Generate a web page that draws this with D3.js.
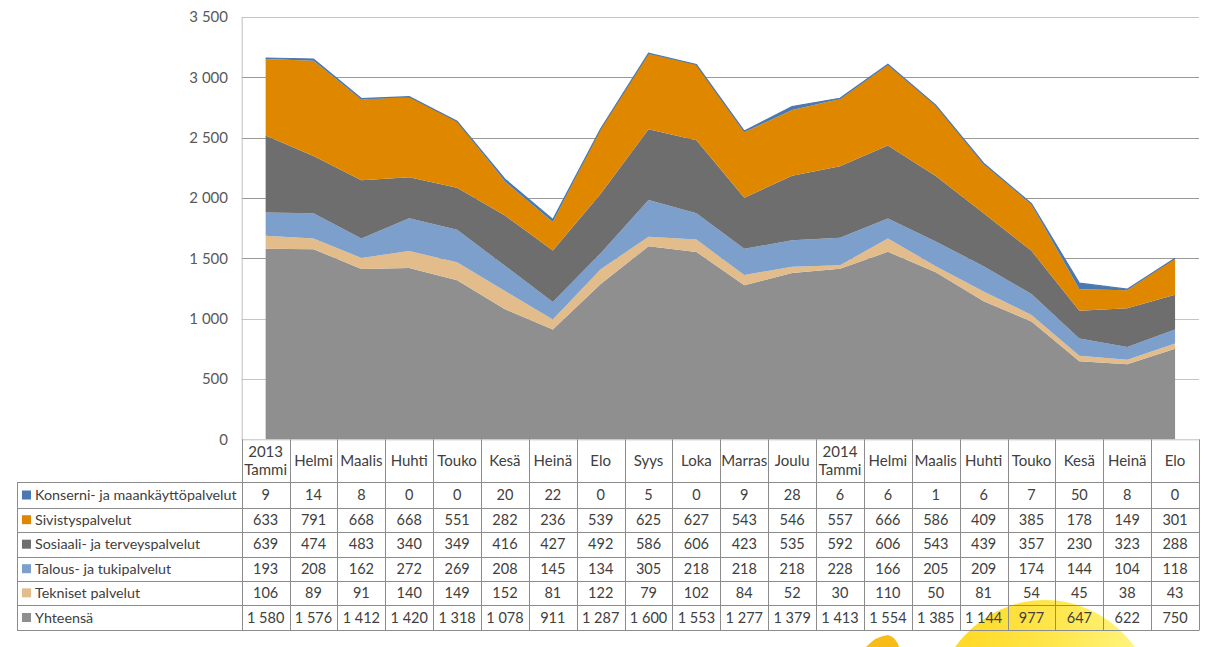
<!DOCTYPE html>
<html><head><meta charset="utf-8">
<script src="https://cdn.jsdelivr.net/npm/d3@7"></script>
<style>
html,body{margin:0;padding:0;background:#fff;}
svg{display:block;font-family:Lato,"Open Sans",sans-serif;}
</style></head>
<body><svg id="c" width="1205" height="647"></svg>
<script>
const months = ["2013\nTammi","Helmi","Maalis","Huhti","Touko","Kesä","Heinä","Elo","Syys","Loka","Marras","Joulu","2014\nTammi","Helmi","Maalis","Huhti","Touko","Kesä","Heinä","Elo"];
const seriesNames = ["Konserni- ja maankäyttöpalvelut","Sivistyspalvelut","Sosiaali- ja terveyspalvelut","Talous- ja tukipalvelut","Tekniset palvelut","Yhteensä"];
const konserni = [9,14,8,0,0,20,22,0,5,0,9,28,6,6,1,6,7,50,8,0];
const sivistys = [633,791,668,668,551,282,236,539,625,627,543,546,557,666,586,409,385,178,149,301];
const sosiaali = [639,474,483,340,349,416,427,492,586,606,423,535,592,606,543,439,357,230,323,288];
const talous = [193,208,162,272,269,208,145,134,305,218,218,218,228,166,205,209,174,144,104,118];
const tekniset = [106,89,91,140,149,152,81,122,79,102,84,52,30,110,50,81,54,45,38,43];
const yhteensa = [1580,1576,1412,1420,1318,1078,911,1287,1600,1553,1277,1379,1413,1554,1385,1144,977,647,622,750];
const yTicks = [0,500,1000,1500,2000,2500,3000,3500];
const colors = ["#4a78b0","#e08700","#6e6e6e","#7c9fcb","#e2bc8a","#8f8f8f"];

const seriesVals = [konserni,sivistys,sosiaali,talous,tekniset,yhteensa];
const svg = d3.select("#c");
const pLeft = 241.7, pRight = 1199, pTop = 17, pBottom = 439.3;
const rowH = [482.3,507.7,531.7,556.7,580.7,605,630];
const tableLeft = 17;

const loc = d3.formatLocale({decimal:",",thousands:"\u00a0",grouping:[3],currency:["","€"]});
const fmt = loc.format(",d");

const x = d3.scaleBand().domain(d3.range(months.length)).range([pLeft,pRight]).padding(0);
const xc = i => x(i) + x.bandwidth()/2;
const y = d3.scaleLinear().domain([0,3500]).range([pBottom,pTop]);

// decorative yellow logo (watermark) behind table
const defs = svg.append("defs");
const g1 = defs.append("linearGradient").attr("id","yg").attr("x1","0").attr("x2","1").attr("y1","0").attr("y2","0");
g1.append("stop").attr("offset","0").attr("stop-color","#ffd000");
g1.append("stop").attr("offset","0.6").attr("stop-color","#ffe640");
g1.append("stop").attr("offset","1").attr("stop-color","#fff780");
svg.append("ellipse").attr("cx",1045).attr("cy",722).attr("rx",114).attr("ry",122).attr("fill","url(#yg)").attr("opacity",0.9);
svg.append("path").attr("d","M866,647 Q876,636 888,635 Q896,637 899,647 Z").attr("fill","#f7b500").attr("opacity",0.9);

// gridlines
svg.append("g").selectAll("line").data(yTicks.filter(d=>d>0)).join("line")
  .attr("x1",pLeft).attr("x2",pRight).attr("y1",d=>Math.round(y(d))+0.5).attr("y2",d=>Math.round(y(d))+0.5)
  .attr("stroke",d=> (d===3500||d<=1000)?"#c4c4c4":"#999").attr("stroke-width",1);

// stacked areas (bottom: Yhteensä ... top: Konserni)
const stackKeys = d3.range(seriesNames.length).reverse();
const rows = months.map((m,i)=>{const o={i}; seriesVals.forEach((s,k)=>o[k]=s[i]); return o;});
const stack = d3.stack().keys(stackKeys)(rows);
const area = d3.area().x(d=>xc(d.data.i)).y0(d=>y(d[0])).y1(d=>y(d[1]));
svg.append("g").selectAll("path").data(stack).join("path")
  .attr("d",area).attr("fill",d=>colors[d.key]);
const topLayer = stack[stack.length-1];
svg.append("path").datum(topLayer)
  .attr("d",d3.line().x(d=>xc(d.data.i)).y(d=>y(d[1])))
  .attr("fill","none").attr("stroke",colors[0]).attr("stroke-width",1.2);

// y axis line
svg.append("line").attr("x1",pLeft+0.5).attr("x2",pLeft+0.5).attr("y1",pTop).attr("y2",pBottom)
  .attr("stroke","#bfbfbf");
// y tick labels
svg.append("g").selectAll("text").data(yTicks).join("text")
  .attr("x",228).attr("y",d=>y(d)).attr("dy","0.35em").attr("text-anchor","end")
  .attr("font-size",15).attr("fill","#595959").text(d=>fmt(d));

// table
const tg = svg.append("g");
const lineC = "#8c8c8c";
tg.append("line").attr("x1",pLeft).attr("x2",pRight).attr("y1",pBottom+0.5).attr("y2",pBottom+0.5).attr("stroke","#bfbfbf");
const colEdges = d3.range(months.length+1).map(i=> i<months.length? x(i): pRight);
tg.selectAll("line.v").data(colEdges).join("line").attr("class","v")
  .attr("x1",d=>Math.round(d)+0.5).attr("x2",d=>Math.round(d)+0.5)
  .attr("y1",pBottom).attr("y2",rowH[6]).attr("stroke",lineC);
tg.append("line").attr("x1",tableLeft+0.5).attr("x2",tableLeft+0.5).attr("y1",rowH[0]).attr("y2",rowH[6]).attr("stroke",lineC);
tg.selectAll("line.h").data(rowH).join("line").attr("class","h")
  .attr("x1",tableLeft).attr("x2",pRight+0.5).attr("y1",d=>Math.round(d)+0.5).attr("y2",d=>Math.round(d)+0.5)
  .attr("stroke",lineC);
months.forEach((m,i)=>{
  const parts = m.split("\n");
  const t = tg.append("text").attr("x",xc(i)).attr("text-anchor","middle").attr("font-size",15).attr("fill","#404040");
  if(parts.length===1){ t.attr("y",(pBottom+rowH[0])/2).attr("dy","0.35em").text(m); }
  else {
    t.append("tspan").attr("x",xc(i)).attr("y",452).attr("dy","0.35em").text(parts[0]);
    t.append("tspan").attr("x",xc(i)).attr("y",470).attr("dy","0.35em").text(parts[1]);
  }
});
seriesNames.forEach((name,k)=>{
  const cy = (rowH[k]+rowH[k+1])/2;
  tg.append("rect").attr("x",22).attr("y",cy-4.5).attr("width",9).attr("height",9).attr("fill",colors[k]);
  tg.append("text").attr("x",35).attr("y",cy).attr("dy","0.35em").attr("font-size",14.3).attr("fill","#404040").text(name);
  tg.append("g").selectAll("text").data(seriesVals[k]).join("text")
    .attr("x",(d,i)=>xc(i)).attr("y",cy).attr("dy","0.35em").attr("text-anchor","middle")
    .attr("font-size",14.5).attr("fill","#404040").text(d=>fmt(d));
});
</script></body></html>
